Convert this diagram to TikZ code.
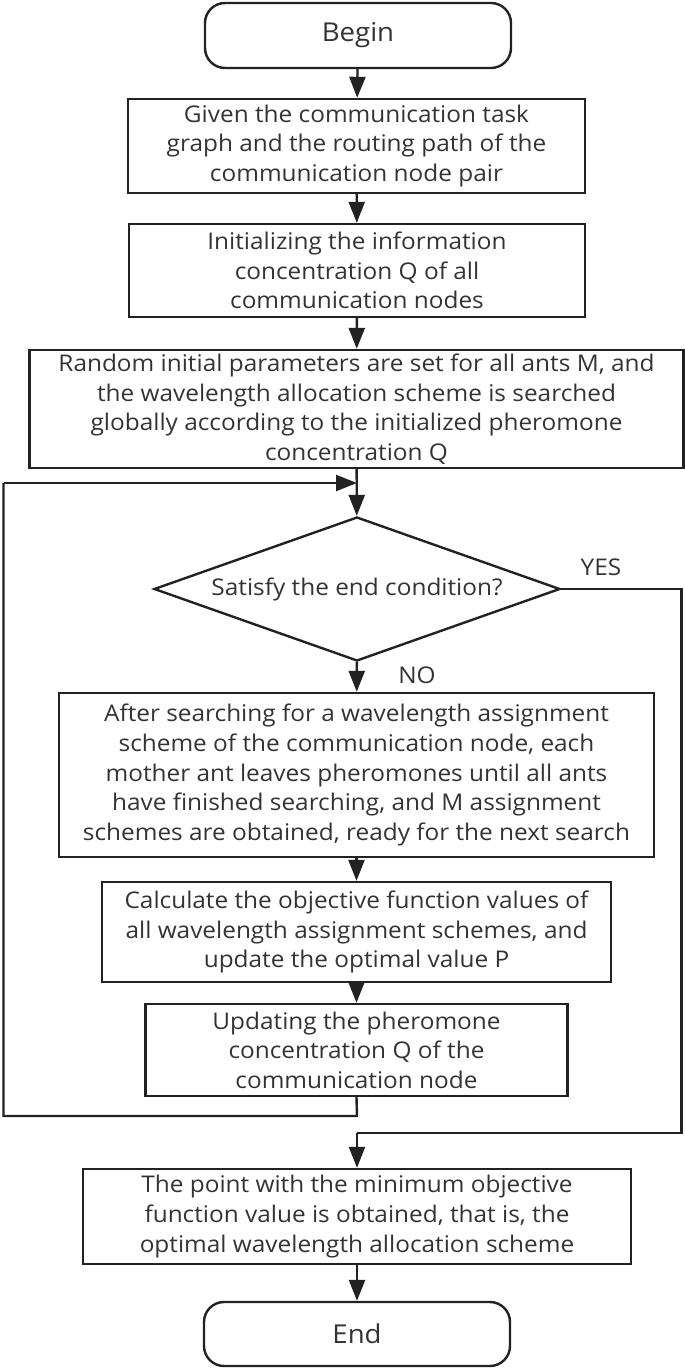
\documentclass[tikz,border=0pt]{standalone}
\usepackage{fontspec}
\setmainfont{Open Sans}[FakeStretch=1.06]
\usetikzlibrary{shapes.geometric,arrows.meta}
\definecolor{ink}{HTML}{222222}
\definecolor{txt}{HTML}{333333}
\tikzset{
  base/.style={draw=ink, line width=1.2pt, inner sep=0pt, align=center, text=txt,
    font=\fontsize{11.5}{14.8}\selectfont},
  procbox/.style={base, rectangle},
  termbox/.style={base, rectangle, rounded corners=10pt, minimum width=153pt,
    font=\fontsize{13}{16}\selectfont},
  decbox/.style={base, diamond, aspect=2.82},
  conn/.style={draw=ink, line width=1.2pt, -{Triangle[length=10.5pt,width=8pt]}},
  plain/.style={draw=ink, line width=1.2pt},
  lbl/.style={text=txt, font=\fontsize{11.5}{15}\selectfont, inner sep=0pt}
}
\begin{document}
\begin{tikzpicture}[x=0.5pt,y=-0.5pt]
\useasboundingbox (0,0) rectangle (685,1370);
\node[termbox, minimum height=32.5pt] (begin) at (358,35.5) {Begin};
\node[procbox, minimum width=228.5pt, minimum height=47pt] (b1) at (356.5,146)
  {Given the communication task\\graph and the routing path of the\\communication node pair};
\node[procbox, minimum width=228pt, minimum height=46.5pt] (b2) at (357,270.5)
  {Initializing the information\\concentration Q of all\\communication nodes};
\node[procbox, minimum width=327pt, minimum height=59pt] (b3) at (356.5,409)
  {Random initial parameters are set for all ants M, and\\the wavelength allocation scheme is searched\\globally according to the initialized pheromone\\concentration Q};
\coordinate (merge) at (357,483);
\node[decbox, minimum width=203pt, minimum height=72pt] (dia) at (357,589)
  {Satisfy the end condition?};
\node[procbox, minimum width=297.5pt, minimum height=82pt] (b4) at (356.5,775)
  {After searching for a wavelength assignment\\scheme of the communication node, each\\mother ant leaves pheromones until all ants\\have finished searching, and M assignment\\schemes are obtained, ready for the next search};
\node[procbox, minimum width=254.5pt, minimum height=50pt] (b5) at (356.5,932)
  {Calculate the objective function values of\\all wavelength assignment schemes, and\\update the optimal value P};
\node[procbox, minimum width=211pt, minimum height=46pt] (b6) at (356.5,1050)
  {Updating the pheromone\\concentration Q of the\\communication node};
\node[procbox, minimum width=274pt, minimum height=47.5pt] (b7) at (357,1216.5)
  {The point with the minimum objective\\function value is obtained, that is, the\\optimal wavelength allocation scheme};
\node[termbox, minimum height=32pt] (end) at (357,1334) {End};
\coordinate (lpA) at (357,1116);
\coordinate (lpB) at (3.5,1116);
\coordinate (lpC) at (3.5,483);
\coordinate (ysA) at (681.5,589);
\coordinate (ysB) at (681.5,1133);
\coordinate (ysC) at (357,1133);
\node[lbl] (yes) at (601,567) {YES};
\node[lbl] (no) at (417,675) {NO};
\draw[conn] (begin) -- (b1);
\draw[conn] (b1) -- (b2);
\draw[conn] (b2) -- (b3);
\draw[conn] (b3) -- (dia);
\draw[conn] (lpC) -- (merge);
\draw[conn] (dia) -- (b4);
\draw[conn] (b4) -- (b5);
\draw[conn] (b5) -- (b6);
\draw[plain] (b6.south) -- (lpA) -- (lpB) -- (lpC);
\draw[plain] (dia.east) -- (ysA) -- (ysB) -- (ysC);
\draw[conn] (ysC) -- (b7);
\draw[conn] (b7) -- (end);
\end{tikzpicture}
\end{document}
